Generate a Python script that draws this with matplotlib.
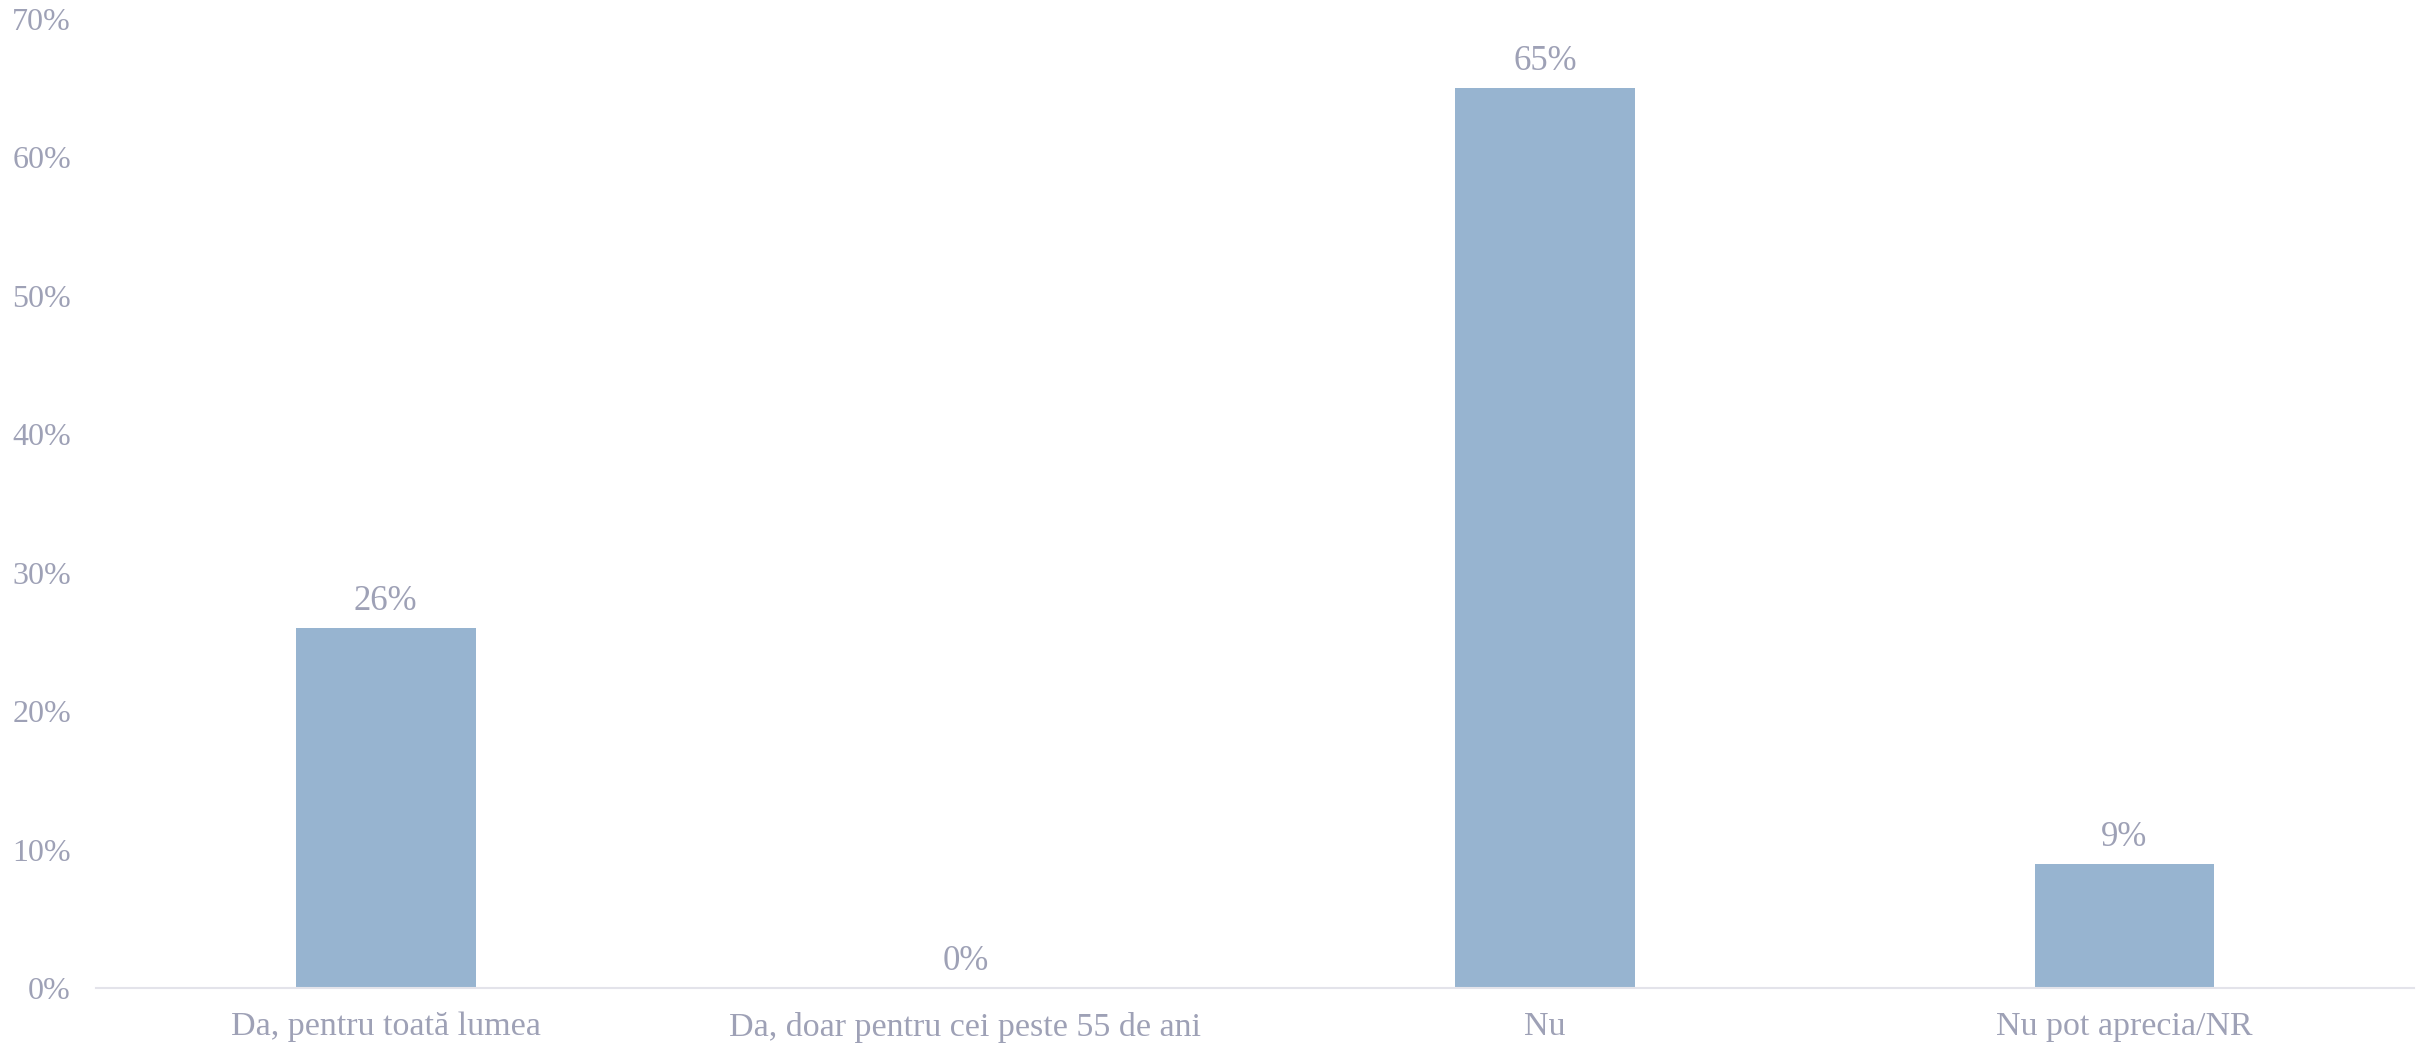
import matplotlib.pyplot as plt
from matplotlib.ticker import FuncFormatter

categories = ['Da, pentru toată lumea', 'Da, doar pentru cei peste 55 de ani', 'Nu', 'Nu pot aprecia/NR']
values = [26, 0, 65, 9]
yticks = [0, 10, 20, 30, 40, 50, 60, 70]

plt.rcParams['font.family'] = ['Liberation Serif', 'DejaVu Serif']

text_color = '#9EA1B6'
bar_color = '#97B4D0'

fig = plt.figure(figsize=(24.3, 10.49), dpi=100)
ax = fig.add_axes([0.0395, 0.058, 0.954, 0.924])

x = range(len(categories))
bars = ax.bar(x, values, width=0.31, color=bar_color)

for xi, v in zip(x, values):
    ax.annotate(f'{v}%', (xi, v), textcoords='offset points', xytext=(0, 7),
                ha='center', va='bottom', fontsize=25, color=text_color)

ax.set_xlim(-0.5, len(categories) - 0.5)
ax.set_ylim(0, 70)
ax.set_yticks(yticks)
ax.yaxis.set_major_formatter(FuncFormatter(lambda v, p: f'{int(v)}%'))
ax.set_xticks(list(x))
ax.set_xticklabels(categories)

ax.tick_params(axis='both', length=0, labelcolor=text_color)
ax.tick_params(axis='x', labelsize=24.5, pad=17)
ax.tick_params(axis='y', labelsize=23, pad=18)

for s in ['top', 'right', 'left']:
    ax.spines[s].set_visible(False)
ax.spines['bottom'].set_color('#E3E3EA')
ax.spines['bottom'].set_linewidth(1.5)

fig.savefig('out.png', dpi=100)
